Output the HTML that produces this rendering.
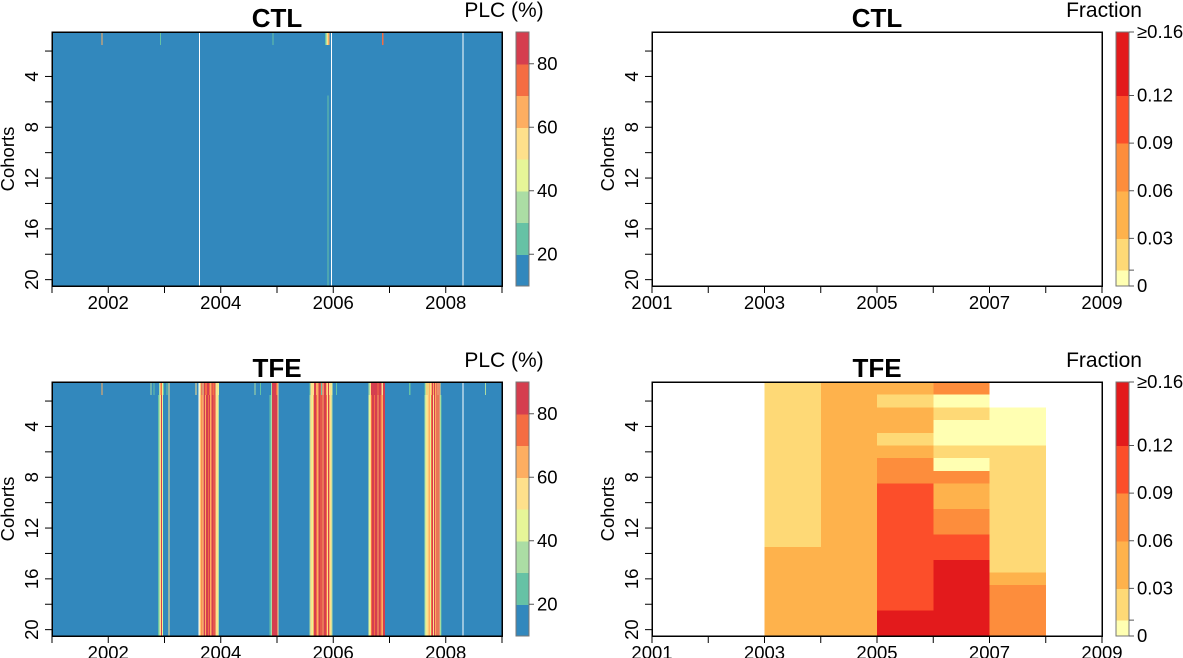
<!DOCTYPE html>
<html><head><meta charset="utf-8">
<style>
html,body{margin:0;padding:0;background:#fff;}
svg{display:block;font-family:"Liberation Sans",Arial,sans-serif;}
rect{shape-rendering:crispEdges;}
</style></head>
<body>
<svg id="fig" width="1183" height="658" viewBox="0 0 1183 658" xmlns="http://www.w3.org/2000/svg"></svg>
<script>
// ---------- data ----------
const plcBreaks = [10,20,30,40,50,60,70,80,90];
const plcColors = ["#3288BD","#66C2A5","#ABDDA4","#E6F598","#FEE08B","#FDAE61","#F46D43","#D53E4F"];
const plcTicks = [20,40,60,80];
const fracBreaks = [0,0.01,0.03,0.06,0.09,0.12,0.16];
const fracColors = ["#FFFFB2","#FED976","#FEB24C","#FD8D3C","#FC4E2A","#E31A1C"];
const fracTicks = [0,0.01,0.03,0.06,0.09,0.12,0.16];
const fracTickLabels = ["0","","0.03","0.06","0.09","0.12","\u22650.16"];
const leftYearLabels = [2002,2004,2006,2008];
const rightYearLabels = [2001,2003,2005,2007,2009];
const cohortTicks = [2,4,6,8,10,12,14,16,18,20];
const cohortLabels = [4,8,12,16,20];

// CTL PLC weekly stripes
const ctlStripeYear = [2001.88,2002.92,2004.92,2005.85,2005.87,2005.89,2005.91,2005.90,2006.87];
const ctlStripeValue = [65,25,25,25,35,55,65,25,75];
const ctlStripeRowFrom = [1,1,1,1,1,1,1,6,1];
const ctlStripeRowTo = [1,1,1,1,1,1,1,20,1];
const ctlNaYears = [2003.61,2005.96,2008.30];

// TFE PLC weekly episodes
const tfeEpisodeStart = [2002.88,2003.62,2004.87,2005.58,2006.63,2007.62];
const tfeEpisodeValues = [
  [25,35,55,85,45,15,15,15,15,15,55],
  [55,60,75,55,85,65,85,90,75,85,60,90,85,70,85,55,50,30],
  [25,35,85,90,85,90,85,55],
  [30,55,45,65,85,90,75,60,85,90,70,85,65,90,85,75,55,85,60,50,30],
  [45,55,70,90,85,75,90,85,65,90,85,75,60,85,90],
  [30,45,55,50,60,45,70,85,55,90,65,85,60,90,45,25]
];
const tfeTopRowYear = [2001.88,2002.75,2002.8,2003.55,2004.6,2004.7,2005.78,2006.05,2007.35,2008.7];
const tfeTopRowValue = [65,35,25,55,35,25,25,25,25,35];
const tfeNaYears = [2003.60,2008.30];

// Fraction heatmap (TFE); rows = cohorts 1..20
const fracYears = [2003,2004,2005,2006,2007];
const frac2003 = [.02,.02,.02,.02,.02,.02,.02,.02,.02,.02,.02,.02,.02,.045,.045,.045,.045,.045,.045,.045];
const frac2004 = [.045,.045,.045,.045,.045,.045,.045,.045,.045,.045,.045,.045,.045,.045,.045,.045,.045,.045,.045,.045];
const frac2005 = [.045,.02,.045,.045,.02,.045,.075,.075,.105,.105,.105,.105,.105,.105,.105,.105,.105,.105,.14,.14];
const frac2006 = [.075,.005,.02,.005,.005,.02,.005,.075,.045,.045,.075,.075,.105,.105,.14,.14,.14,.14,.14,.14];
const frac2007 = [null,null,.005,.005,.005,.02,.02,.02,.02,.02,.02,.02,.02,.02,.02,.045,.075,.075,.075,.075];

// ---------- helpers ----------
const svg = document.getElementById('fig');
const NS = "http://www.w3.org/2000/svg";
function mk(tag, attrs, parent){ const e=document.createElementNS(NS,tag); for(const k in attrs) e.setAttribute(k,attrs[k]); (parent||svg).appendChild(e); return e; }
function plcColor(v){ for(let i=0;i<plcColors.length;i++){ if(v<plcBreaks[i+1]) return plcColors[i]; } return plcColors[plcColors.length-1]; }
function fracColor(v){ for(let i=0;i<fracColors.length;i++){ if(v<fracBreaks[i+1]) return fracColors[i]; } return fracColors[fracColors.length-1]; }
const WEEK = 1/52;
const FS = 18.5;

function panel(px0, py0, name){
  const P = {x0:px0, x1:px0+450, y0:py0, y1:py0+254};
  P.x = y => P.x0 + (y-2001)/8*(P.x1-P.x0);
  P.y = r => P.y0 + (r-0.5)/20*(P.y1-P.y0);
  P.g = mk('g',{});
  
  
  return P;
}
function rowRect(P, y0, y1, r0, r1, fill, nm){
  const e = mk('rect',{x:P.x(y0),y:P.y(r0-0.5),width:Math.max(P.x(y1)-P.x(y0),1),height:P.y(r1+0.5)-P.y(r0-0.5)+0.5,fill:fill},P.g);
  
  
  return e;
}
function axes(P, labels, title, cbTitle, yTitle){
  const g = mk('g',{});
  
  
  mk('rect',{x:P.x0,y:P.y0,width:P.x1-P.x0,height:P.y1-P.y0,fill:'none',stroke:'#000','stroke-width':1.5},g);
  for(let yr=2001; yr<=2009; yr++){
    mk('line',{x1:P.x(yr),x2:P.x(yr),y1:P.y1,y2:P.y1+7,stroke:'#000','stroke-width':1},g);
  }
  labels.forEach(yr=>{
    const t = mk('text',{x:P.x(yr),y:P.y1+23,'font-size':FS,'text-anchor':'middle'},g);
    t.textContent = yr;
    
    
  });
  cohortTicks.forEach(c=>{ mk('line',{x1:P.x0-7,x2:P.x0,y1:P.y(c),y2:P.y(c),stroke:'#000','stroke-width':1},g); });
  cohortLabels.forEach(c=>{
    const t = mk('text',{x:0,y:0,'font-size':FS,'text-anchor':'middle',transform:`translate(${P.x0-14},${P.y(c)}) rotate(-90)`},g);
    t.textContent = c;
    
    
  });
  const yt = mk('text',{x:0,y:0,'font-size':FS,'text-anchor':'middle',transform:`translate(${P.x0-38},${(P.y0+P.y1)/2}) rotate(-90)`},g);
  yt.textContent = yTitle;
  
  
  const tt = mk('text',{x:(P.x0+P.x1)/2,y:P.y0-5,'font-size':26,'font-weight':'bold','text-anchor':'middle'},g);
  tt.textContent = title;
  
  
  const ct = mk('text',{x:P.x1+2,y:P.y0-15,'font-size':21,'text-anchor':'middle'},g);
  ct.textContent = cbTitle;
  
  
}
function colorbar(x, P, breaks, colors, ticks, tickLabels, name){
  const g = mk('g',{});
  
  
  const lo = breaks[0], hi = breaks[breaks.length-1];
  const cy = v => P.y1 - (v-lo)/(hi-lo)*(P.y1-P.y0);
  colors.forEach((c,i)=>{
    const r = mk('rect',{x:x,y:cy(breaks[i+1]),width:13,height:cy(breaks[i])-cy(breaks[i+1])+0.5,fill:c},g);
    
    
  });
  mk('rect',{x:x,y:P.y0,width:13,height:P.y1-P.y0,fill:'none',stroke:'#777','stroke-width':1},g);
  ticks.forEach((v,i)=>{
    mk('line',{x1:x+13,x2:x+18,y1:cy(v),y2:cy(v),stroke:'#555','stroke-width':1},g);
    if(tickLabels[i]!==""){
      const t = mk('text',{x:x+21,y:cy(v)+6,'font-size':FS},g);
      t.textContent = tickLabels[i];
      
      
    }
  });
}

// ---------- PLC panels ----------
function plcPanel(P, stripes, naYears){
  rowRect(P,2001,2009,1,20,plcColors[0],'background-cells');
  stripes.forEach(s=>rowRect(P,s[0],s[0]+WEEK,s[2],s[3],plcColor(s[1]),'plc-cell'));
  naYears.forEach(y=>rowRect(P,y,y+0.012,1,20,'#fff','missing-week'));
}
const P1 = panel(52,32,'ctl-plc-heatmap');
const ctlStripes = ctlStripeYear.map((y,i)=>[y,ctlStripeValue[i],ctlStripeRowFrom[i],ctlStripeRowTo[i]]);
plcPanel(P1, ctlStripes, ctlNaYears);
axes(P1, leftYearLabels, 'CTL', 'PLC (%)', 'Cohorts');
colorbar(516, P1, plcBreaks, plcColors, plcTicks, plcTicks.map(String), 'plc-colorbar-top');

const P3 = panel(52,382,'tfe-plc-heatmap');
const tfeStripes = [];
tfeEpisodeStart.forEach((st,k)=>{
  tfeEpisodeValues[k].forEach((v,j)=>{
    const y = st + j*WEEK;
    tfeStripes.push([y,v,2,20]);
    tfeStripes.push([y,Math.min(89,v+10*((j%3)-1)),1,1]);
  });
});
tfeTopRowYear.forEach((y,i)=>tfeStripes.push([y,tfeTopRowValue[i],1,1]));
plcPanel(P3, tfeStripes, tfeNaYears);
axes(P3, leftYearLabels, 'TFE', 'PLC (%)', 'Cohorts');
colorbar(516, P3, plcBreaks, plcColors, plcTicks, plcTicks.map(String), 'plc-colorbar-bottom');

// ---------- Fraction panels ----------
const P2 = panel(652,32,'ctl-fraction-heatmap');
axes(P2, rightYearLabels, 'CTL', 'Fraction', 'Cohorts');
colorbar(1116, P2, fracBreaks, fracColors, fracTicks, fracTickLabels, 'fraction-colorbar-top');

const P4 = panel(652,382,'tfe-fraction-heatmap');
const fracCols = [frac2003,frac2004,frac2005,frac2006,frac2007];
fracYears.forEach((yr,ci)=>{
  fracCols[ci].forEach((v,ri)=>{
    if(v===null) return;
    rowRect(P4,yr,yr+1,ri+1,ri+1,fracColor(v),'fraction-cell');
  });
});
axes(P4, rightYearLabels, 'TFE', 'Fraction', 'Cohorts');
colorbar(1116, P4, fracBreaks, fracColors, fracTicks, fracTickLabels, 'fraction-colorbar-bottom');
</script>
</body></html>
